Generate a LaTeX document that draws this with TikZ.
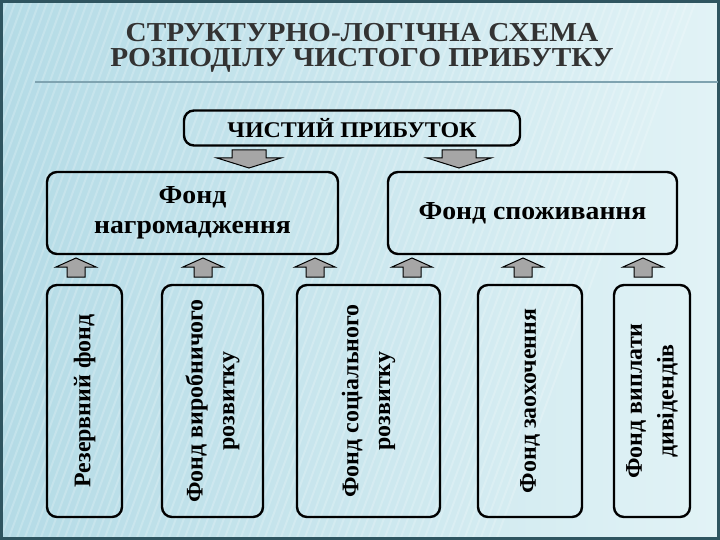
\documentclass[tikz,border=0pt]{standalone}
\usepackage{fontspec}
\setmainfont{Liberation Serif}
\newfontfamily\slidefont[FakeStretch=1.07, BoldFont={Liberation Serif Bold}]{Liberation Serif}
\newfontfamily\sidefont[BoldFont={Liberation Serif Bold}]{Liberation Serif}

\definecolor{framecol}{HTML}{2F5560}
\definecolor{bgleft}{HTML}{B4DBE6}
\definecolor{bgright}{HTML}{E2F3F6}
\definecolor{titlecol}{HTML}{333333}
\definecolor{rulecol}{HTML}{7FA3B0}
\definecolor{arrowgray}{HTML}{A6A6A6}

\tikzset{
	fund/.style={draw, line width=2.4bp, rounded corners=10bp, inner sep=0pt, align=center,
		font=\slidefont\bfseries\fontsize{26}{30}\selectfont},
	tallfund/.style={fund, rotate=90, minimum width=232bp,
		font=\sidefont\bfseries\fontsize{24}{32}\selectfont},
	pics/downarr/.style={code={
		\draw[line width=1bp, fill=arrowgray] (-17,0) -- (17,0) -- (17,8) -- (32,8) -- (0,18) -- (-32,8) -- (-17,8) -- cycle;}},
	pics/uparr/.style={code={
		\draw[line width=1bp, fill=arrowgray] (-9,0) -- (9,0) -- (9,-10) -- (20,-10) -- (0,-19) -- (-20,-10) -- (-9,-10) -- cycle;}}
}

\begin{document}
\begin{tikzpicture}[x=1bp, y=-1bp]
	\useasboundingbox (0,0) rectangle (720,540);
	% slide background
	\shade[left color=bgleft, right color=bgright] (0,0) rectangle (720,540);
	\begin{scope}
		\clip (0,0) rectangle (720,540);
		\foreach \s in {0,8,...,700}
			\draw[white, opacity=.2, line width=2bp] (\s-200,540) -- (\s,0);
	\end{scope}
	\draw[framecol, line width=3bp] (1.5,1.5) rectangle (718.5,538.5);
	% title
	\node[titlecol, align=center, font=\slidefont\bfseries\fontsize{27.5}{25.5}\selectfont] (title) at (362,48)
		{СТРУКТУРНО-ЛОГІЧНА СХЕМА\\РОЗПОДІЛУ ЧИСТОГО ПРИБУТКУ};
	\draw[rulecol, line width=1.2bp] (35,82) -- (718,82);
	% boxes
	\node[fund, minimum width=336bp, minimum height=35bp, font=\slidefont\bfseries\fontsize{22.5}{26}\selectfont] (profit) at (352,128) {ЧИСТИЙ ПРИБУТОК};
	\node[fund, minimum width=291bp, minimum height=82bp] (acc) at (192.5,213) {Фонд\\нагромадження};
	\node[fund, minimum width=289bp, minimum height=82bp] (cons) at (532.5,213) {Фонд споживання};
	\node[tallfund, minimum height=75bp] (reserve) at (84.5,401) {Резервний фонд};
	\node[tallfund, minimum height=101bp] (prod) at (212.5,401) {Фонд виробничого\\розвитку};
	\node[tallfund, minimum height=143bp] (social) at (368.5,401) {Фонд соціального\\розвитку};
	\node[tallfund, minimum height=104bp] (bonus) at (530,401) {Фонд заохочення};
	\node[tallfund, minimum height=76bp] (divid) at (652,401) {Фонд виплати\\дивідендів};
	% arrows
	\pic at (249,150) {downarr};
	\pic at (459,150) {downarr};
	\foreach \x in {76,203,315,412,523,643}
		\pic at (\x,277) {uparr};
\end{tikzpicture}
\end{document}
